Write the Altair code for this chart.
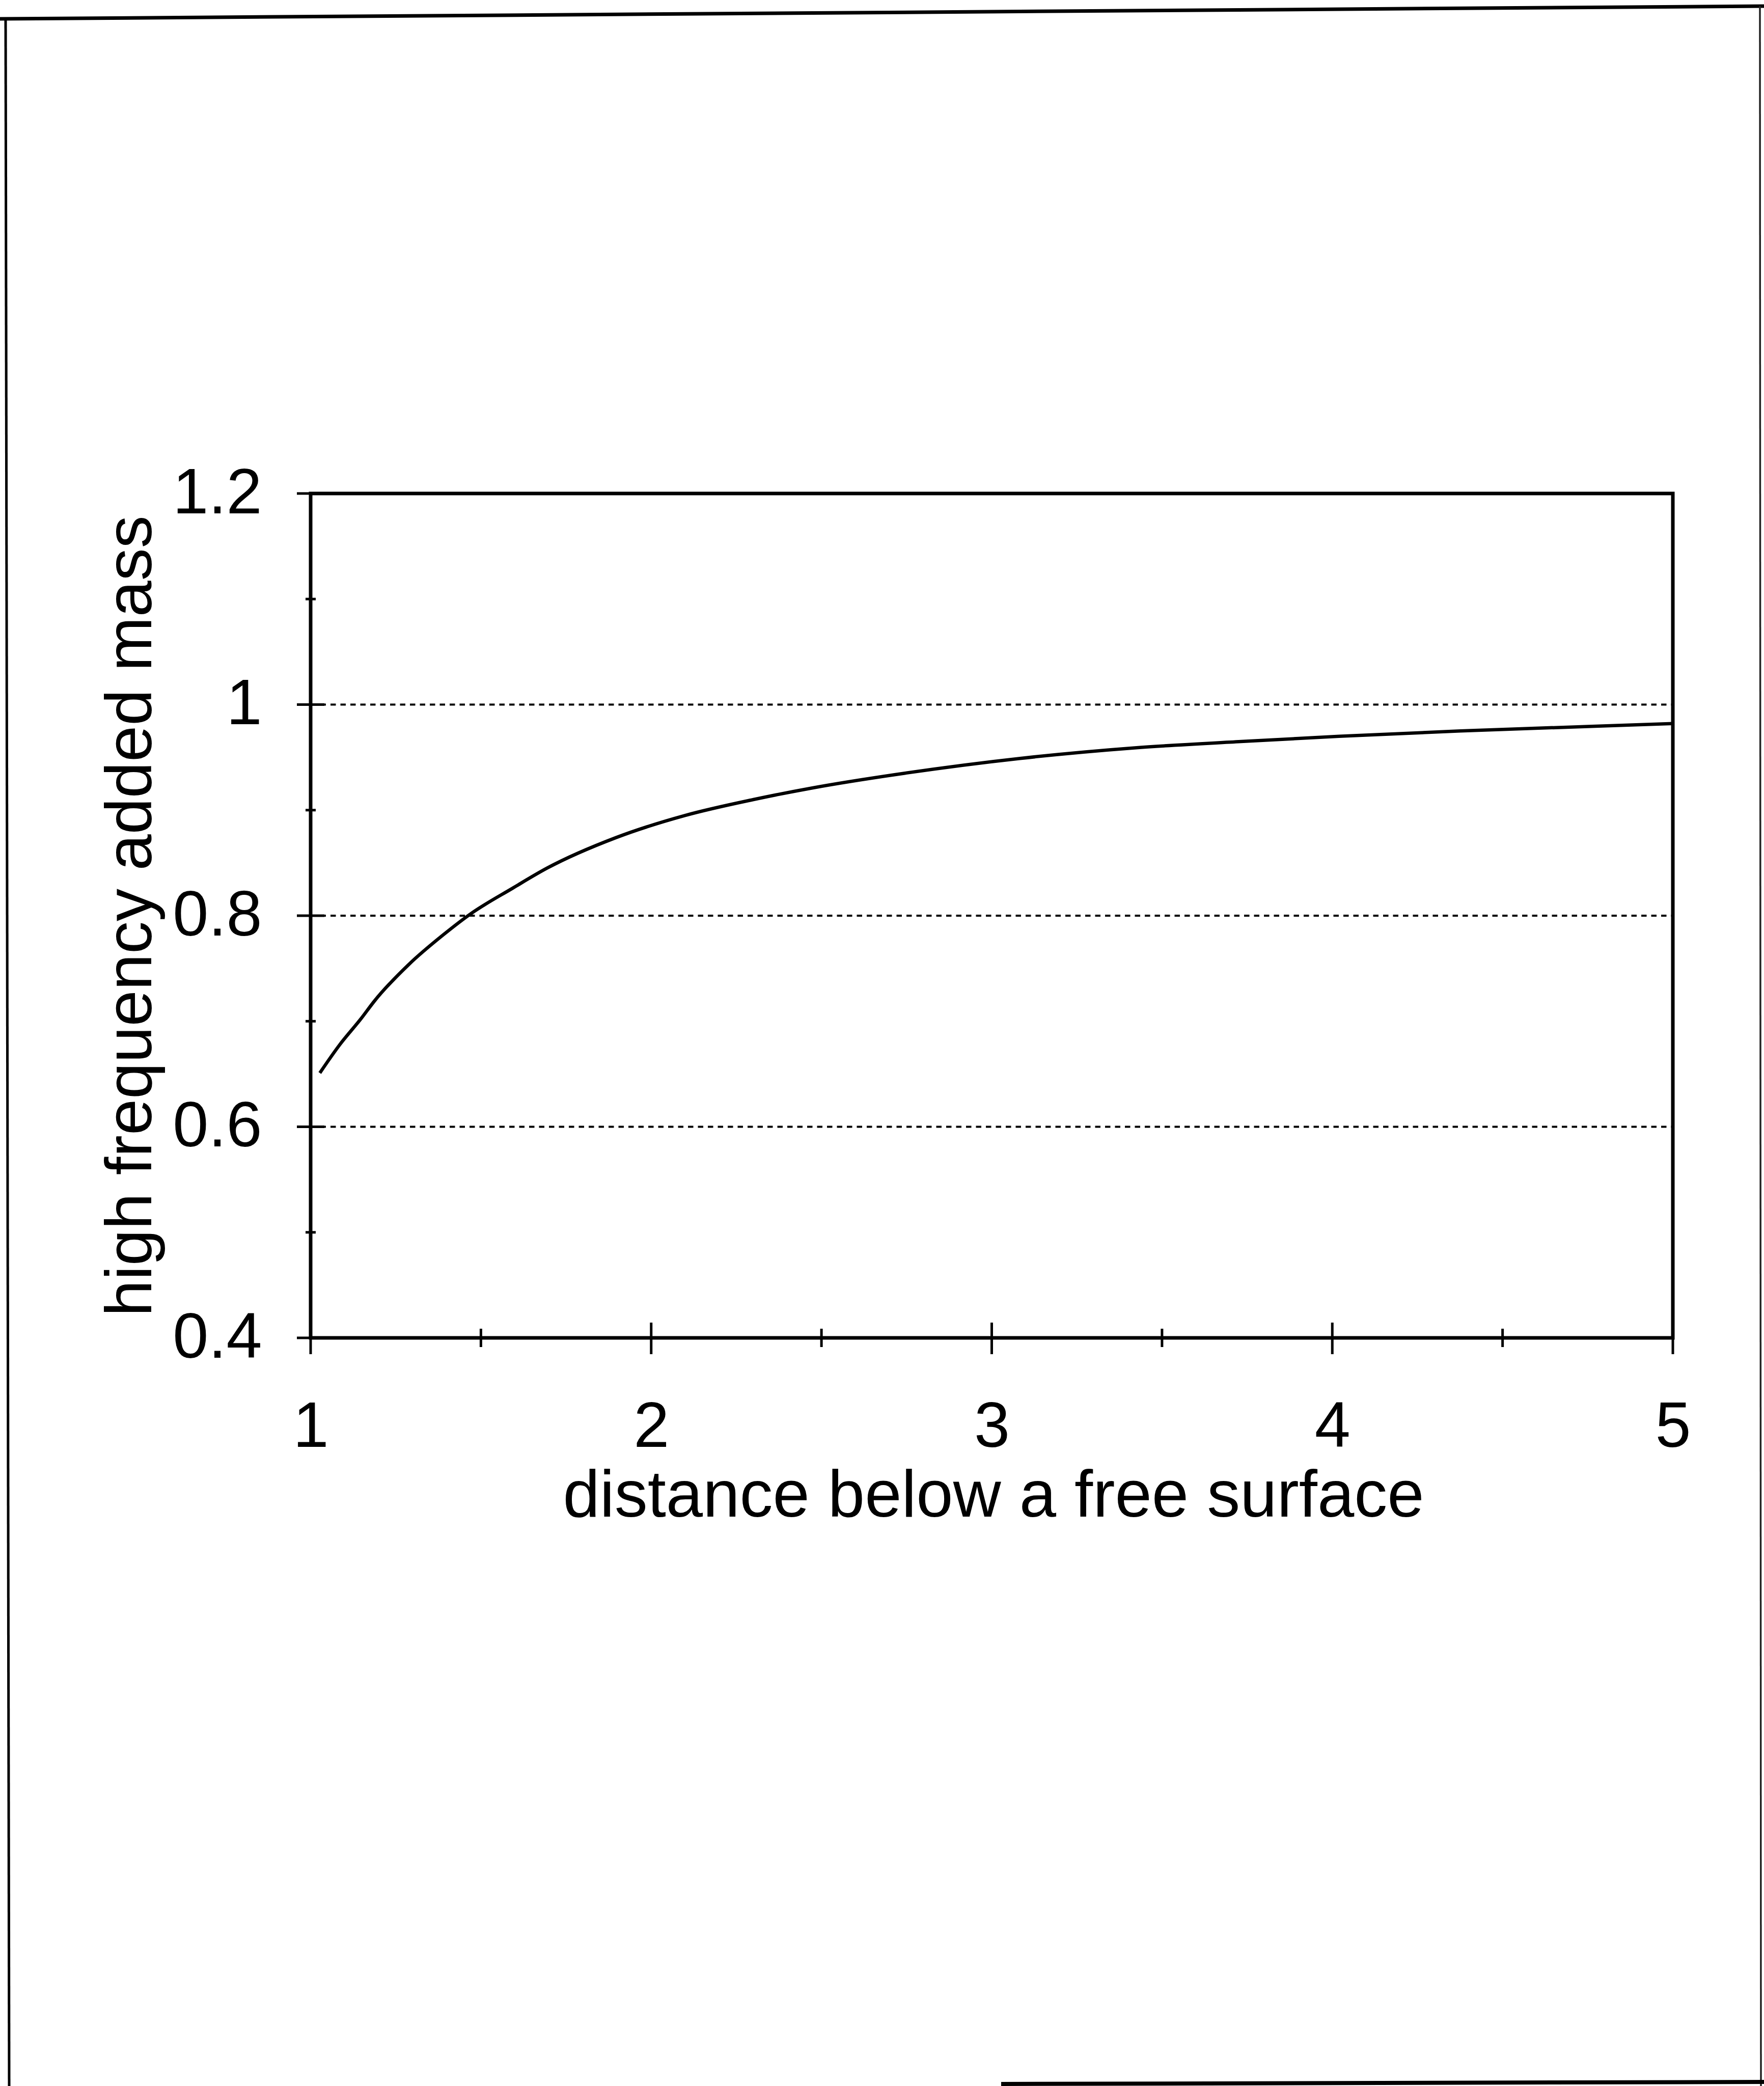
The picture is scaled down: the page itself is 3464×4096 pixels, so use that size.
import altair as alt
import pandas as pd

# High-frequency added mass of a body as a function of its distance below a free surface
distance = [1.027, 1.086, 1.147, 1.187, 1.289, 1.39, 1.471, 1.593, 1.694, 1.897,
            2.10, 2.30, 2.473, 2.745, 3.083, 3.42, 3.732, 4.02, 4.376, 4.73, 5.0]
added_mass = [0.651, 0.678, 0.702, 0.719, 0.754, 0.782, 0.802, 0.826, 0.845, 0.874,
              0.895, 0.910, 0.921, 0.935, 0.949, 0.959, 0.965, 0.970, 0.975, 0.979, 0.982]

# axis ticks and gridlines
x_major = [1, 2, 3, 4, 5]
x_minor = [1.5, 2.5, 3.5, 4.5]
y_major = [0.4, 0.6, 0.8, 1.0, 1.2]
y_minor = [0.5, 0.7, 0.9, 1.1]
y_grid = [0.6, 0.8, 1.0]

X_TITLE = "distance below a free surface"
Y_TITLE = "high frequency added mass"

# layout (pixels)
TOTAL_W, TOTAL_H = 3464, 4096
LEFT, TOP = 610, 969
W, H = 2675, 1658
FONT = "Liberation Sans"

curve_df = pd.DataFrame({"x": distance, "y": added_mass})
xmaj_df = pd.DataFrame({"x": x_major})
xmin_df = pd.DataFrame({"x": x_minor})
ymaj_df = pd.DataFrame({"y": y_major})
ymin_df = pd.DataFrame({"y": y_minor})
grid_df = pd.DataFrame({"y": y_grid})

x_scale = alt.Scale(domain=[1, 5], nice=False, zero=False)
y_scale = alt.Scale(domain=[0.4, 1.2], nice=False, zero=False)

x_axis = alt.Axis(
    values=x_major, format="d", domain=False, ticks=False, tickSize=0, grid=False,
    labelFont=FONT, labelFontSize=126, labelColor="black", labelBaseline="alphabetic",
    labelPadding=213, labelFlush=False, labelOverlap=False,
    titleFont=FONT, titleFontSize=130, titleFontWeight="normal", titleColor="black",
    titleX=W / 2 + 3, titleY=350, titleBaseline="alphabetic", titleAlign="center",
)
y_axis = alt.Axis(
    values=y_major, format="~g", domain=False, ticks=False, tickSize=0, grid=False,
    labelFont=FONT, labelFontSize=126, labelColor="black", labelBaseline="middle",
    labelAlign="right", labelPadding=96, labelFlush=False, labelOverlap=False,
    titleFont=FONT, titleFontSize=128, titleFontWeight="normal", titleColor="black",
    titleX=-314, titleY=H / 2, titleAngle=270, titleBaseline="alphabetic", titleAlign="center",
)

X = alt.X("x:Q", scale=x_scale, axis=x_axis, title=X_TITLE)
Y = alt.Y("y:Q", scale=y_scale, axis=y_axis, title=Y_TITLE)

# dotted horizontal gridlines
grid = alt.Chart(grid_df).mark_rule(color="black", strokeWidth=4, strokeDash=[10.5, 9]).encode(
    y=Y, x=alt.value(0), x2=alt.value(W)
)

# the curve
curve = alt.Chart(curve_df).mark_line(color="black", strokeWidth=6.5, interpolate="monotone").encode(
    x=X, y=Y
)

# crossing tick marks
xt_major = alt.Chart(xmaj_df).mark_rule(color="black", strokeWidth=5).encode(
    x=X, y=alt.value(H - 30), y2=alt.value(H + 32)
)
xt_minor = alt.Chart(xmin_df).mark_rule(color="black", strokeWidth=5).encode(
    x=X, y=alt.value(H - 18), y2=alt.value(H + 18)
)
yt_major = alt.Chart(ymaj_df).mark_rule(color="black", strokeWidth=5).encode(
    y=Y, x=alt.value(-27), x2=alt.value(27)
)
yt_minor = alt.Chart(ymin_df).mark_rule(color="black", strokeWidth=5).encode(
    y=Y, x=alt.value(-10), x2=alt.value(10)
)

# outer frame around the figure
one = alt.Data(values=[{}])
frame_top = alt.Chart(one).mark_rule(color="black", strokeWidth=7).encode(
    x=alt.value(-LEFT), y=alt.value(37 - TOP),
    x2=alt.value(TOTAL_W - LEFT), y2=alt.value(12 - TOP)
)
frame_left = alt.Chart(one).mark_rule(color="black", strokeWidth=5).encode(
    x=alt.value(11 - LEFT), y=alt.value(37 - TOP),
    x2=alt.value(18 - LEFT), y2=alt.value(TOTAL_H - TOP)
)
frame_right = alt.Chart(one).mark_rule(color="#222222", strokeWidth=3.5).encode(
    x=alt.value(3456 - LEFT), y=alt.value(12 - TOP),
    x2=alt.value(3458 - LEFT), y2=alt.value(TOTAL_H - TOP)
)
frame_bottom = alt.Chart(one).mark_rule(color="black", strokeWidth=8).encode(
    x=alt.value(1966 - LEFT), y=alt.value(4092 - TOP),
    x2=alt.value(TOTAL_W - LEFT), y2=alt.value(4088 - TOP)
)

chart = alt.layer(
    grid, curve, xt_major, xt_minor, yt_major, yt_minor,
    frame_top, frame_left, frame_right, frame_bottom,
).properties(
    width=W,
    height=H,
    autosize=alt.AutoSizeParams(type="none"),
    padding={"left": LEFT, "top": TOP, "right": TOTAL_W - LEFT - W, "bottom": TOTAL_H - TOP - H},
).configure(
    background="white",
).configure_view(
    stroke="black",
    strokeWidth=7,
    fill="white",
)

chart.save("out.html", embed_options={"renderer": "svg", "actions": False})
